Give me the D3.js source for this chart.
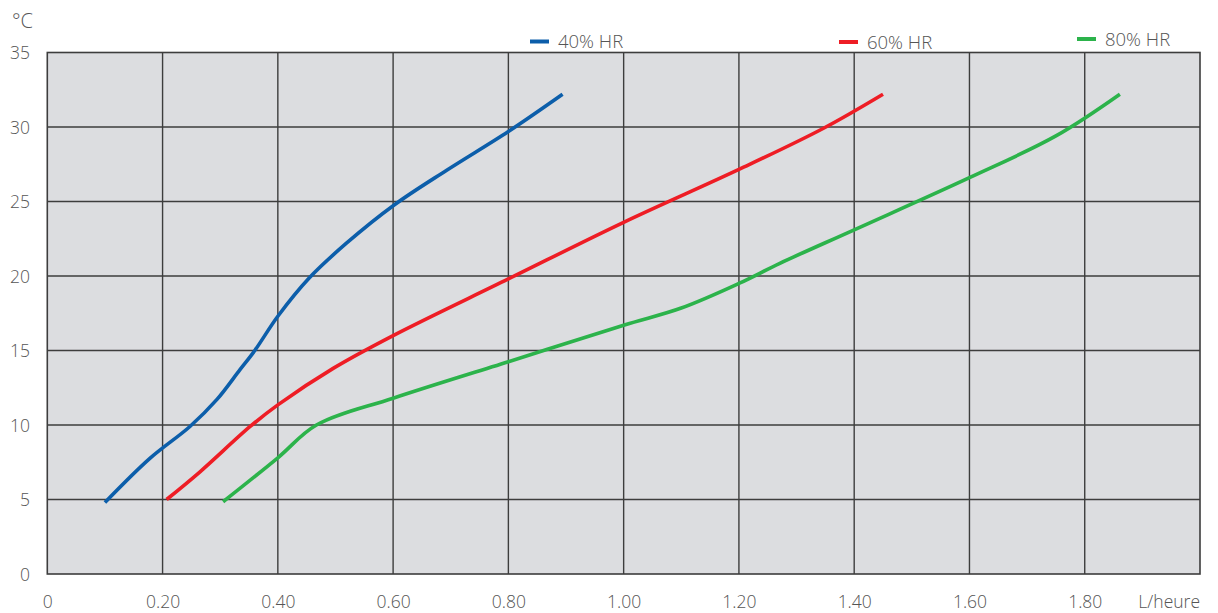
<!DOCTYPE html>
<html>
<head>
<meta charset="utf-8">
<script src="https://cdn.jsdelivr.net/npm/d3@7"></script>
<style>
  html, body { margin: 0; padding: 0; background: #ffffff; }
  svg { display: block; }
  text { font-family: "Open Sans", "Noto Sans", sans-serif; font-weight: 300; fill: #555555; }
</style>
</head>
<body>
<svg id="chart" width="1218" height="613"></svg>
<script>
// ---- data ----
const xTickValues = [0, 0.2, 0.4, 0.6, 0.8, 1.0, 1.2, 1.4, 1.6, 1.8];
const xTickLabels = ["0", "0.20", "0.40", "0.60", "0.80", "1.00", "1.20", "1.40", "1.60", "1.80"];
const yTickValues = [0, 5, 10, 15, 20, 25, 30, 35];
const seriesNames = ["40% HR", "60% HR", "80% HR"];
const seriesColors = ["#0c5eaa", "#ee1d25", "#2cb34b"];

const hr40 = [
  [0.10, 4.8], [0.178, 7.76], [0.2475, 9.9], [0.294, 11.7], [0.334, 13.7], [0.36, 15.0],
  [0.40, 17.3], [0.454, 19.85], [0.519, 22.2], [0.603, 24.8],
  [0.693, 27.1], [0.80, 29.7], [0.894, 32.2]
];
const hr60 = [
  [0.207, 5.0], [0.265, 6.86], [0.352, 9.9], [0.40, 11.35], [0.496, 13.8],
  [0.60, 16.0], [0.80, 19.8], [1.00, 23.6], [1.20, 27.15], [1.346, 29.9],
  [1.45, 32.2]
];
const hr80 = [
  [0.305, 4.85], [0.40, 7.8], [0.467, 10.0], [0.60, 11.8], [0.80, 14.25],
  [1.00, 16.7], [1.10, 17.85], [1.20, 19.5], [1.271, 20.85], [1.40, 23.1],
  [1.60, 26.6], [1.75, 29.4], [1.861, 32.2]
];
const seriesData = [hr40, hr60, hr80];

// ---- chart ----
const svg = d3.select("#chart");
const x = d3.scaleLinear().domain([0, 2.0]).range([47.3, 1200]);
const y = d3.scaleLinear().domain([0, 35]).range([574, 52.5]);

// background
svg.append("rect")
  .attr("x", x(0)).attr("y", y(35))
  .attr("width", x(2.0) - x(0)).attr("height", y(0) - y(35))
  .attr("fill", "#dcdde0");

// grid
const grid = svg.append("g").attr("stroke", "#3d3d3d").attr("stroke-width", 1.4);
grid.selectAll("line.v").data(xTickValues.filter(d => d > 0)).enter().append("line")
  .attr("x1", d => x(d)).attr("x2", d => x(d))
  .attr("y1", y(0)).attr("y2", y(35));
grid.selectAll("line.h").data(yTickValues.filter(d => d > 0 && d < 35)).enter().append("line")
  .attr("x1", x(0)).attr("x2", x(2.0))
  .attr("y1", d => y(d)).attr("y2", d => y(d));
svg.append("rect")
  .attr("x", x(0)).attr("y", y(35))
  .attr("width", x(2.0) - x(0)).attr("height", y(0) - y(35))
  .attr("fill", "none").attr("stroke", "#3d3d3d").attr("stroke-width", 1.6);

// axes labels via d3 axes
const xAxis = d3.axisBottom(x).tickValues(xTickValues)
  .tickFormat((d, i) => xTickLabels[i]).tickSize(0).tickPadding(0);
const gx = svg.append("g").attr("transform", `translate(0,${y(0)})`).call(xAxis);
gx.select(".domain").remove();
gx.selectAll("text").attr("y", 34).attr("dy", 0)
  .style("font-size", "17.5px").style("fill", "#555").style("font-weight", "300")
  .style("font-family", '"Open Sans", sans-serif');

const yAxis = d3.axisLeft(y).tickValues(yTickValues).tickSize(0).tickPadding(0);
const gy = svg.append("g").attr("transform", `translate(30,0)`).call(yAxis);
gy.select(".domain").remove();
gy.selectAll("text").attr("x", 0).attr("dy", "0.36em")
  .style("font-size", "17.5px").style("fill", "#555").style("font-weight", "300")
  .style("font-family", '"Open Sans", sans-serif');

// unit labels
svg.append("text").attr("x", 12).attr("y", 28)
  .style("font-size", "20px").text("°C");
svg.append("text").attr("x", 1200).attr("y", 608).attr("text-anchor", "end")
  .style("font-size", "17.5px").text("L/heure");

// lines
const line = d3.line()
  .x(d => x(d[0])).y(d => y(d[1]))
  .curve(d3.curveCatmullRom.alpha(0.5));
svg.append("g").selectAll("path").data(seriesData).enter().append("path")
  .attr("d", line)
  .attr("fill", "none")
  .attr("stroke", (d, i) => seriesColors[i])
  .attr("stroke-width", 3.6)
  .attr("stroke-linecap", "butt");

// legend
const legendPos = [
  { dx: 530, ly: 41.5 },
  { dx: 839, ly: 42 },
  { dx: 1077, ly: 39 }
];
const leg = svg.append("g").selectAll("g").data(seriesNames).enter().append("g");
leg.append("line")
  .attr("x1", (d, i) => legendPos[i].dx).attr("x2", (d, i) => legendPos[i].dx + 19)
  .attr("y1", (d, i) => legendPos[i].ly).attr("y2", (d, i) => legendPos[i].ly)
  .attr("stroke", (d, i) => seriesColors[i]).attr("stroke-width", 4);
leg.append("text")
  .attr("x", (d, i) => legendPos[i].dx + 28)
  .attr("y", (d, i) => legendPos[i].ly + 6.5)
  .style("font-size", "18.5px")
  .text(d => d);
</script>
</body>
</html>
